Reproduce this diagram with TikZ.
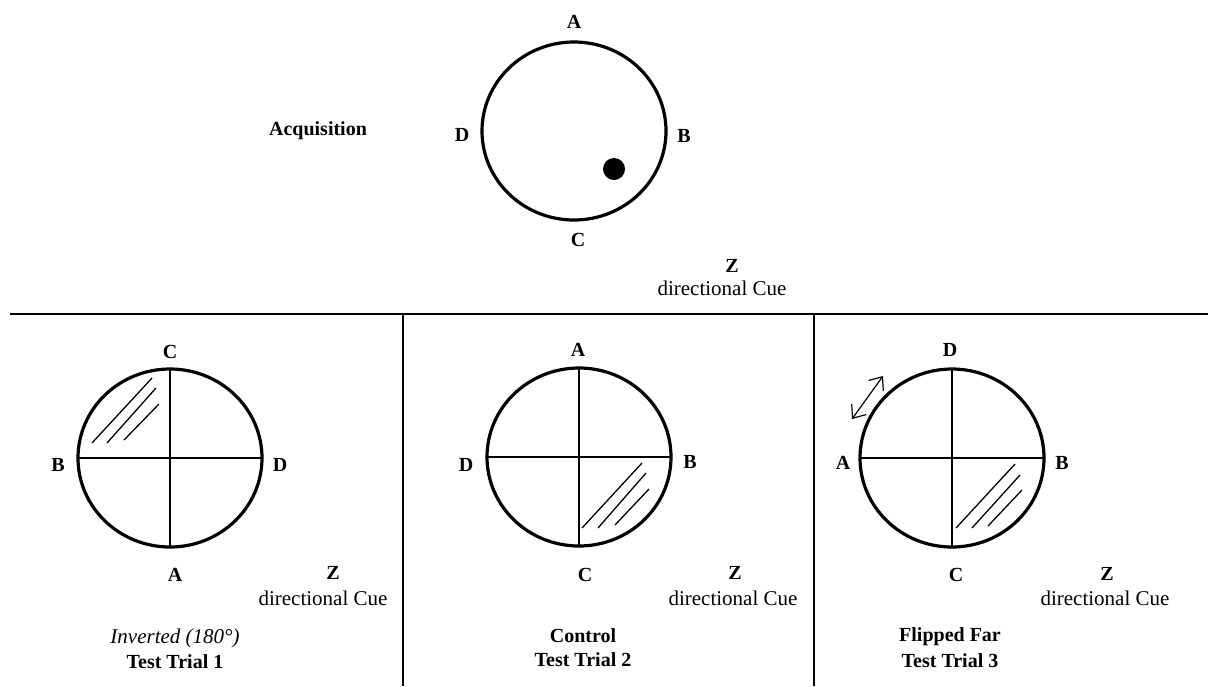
\documentclass[tikz,border=0pt]{standalone}
\usepackage{fontspec}
\setmainfont{Liberation Serif}
\usetikzlibrary{arrows.meta}
\tikzset{
  lbl/.style={font=\fontsize{10}{12}\selectfont\bfseries, inner sep=0pt},
  cue/.style={font=\fontsize{10.5}{12}\selectfont, inner sep=0pt},
  ring/.style={line width=1.6pt},
  cross/.style={line width=0.65pt},
  hatch/.style={line width=0.65pt},
}
\begin{document}
\begin{tikzpicture}[x=0.5pt,y=-0.5pt]
\useasboundingbox (0,0) rectangle (1208,686);
% Acquisition
\coordinate (acq) at (574,131);
\draw[ring] (acq) ellipse [x radius=92, y radius=89];
\fill (614,169) circle (11);
\node[lbl] (acqA) at (574,22) {A};
\node[lbl] (acqB) at (684,136) {B};
\node[lbl] (acqC) at (578,240) {C};
\node[lbl] (acqD) at (462,135) {D};
\node[lbl] (acqname) at (318,131) {Acquisition};
\node[lbl] (acqZ) at (732,266) {Z};
\node[cue] (acqcue) at (722,288) {directional Cue};
% Dividers
\coordinate (hl) at (10,314);
\coordinate (hr) at (1208,314);
\draw[line width=0.6pt] (hl) -- (hr);
\draw[line width=0.6pt] (403,314) -- (403,686);
\draw[line width=0.6pt] (814,314) -- (814,686);
% Test Trial 1
\coordinate (one) at (170,458);
\draw[ring] (one) ellipse [x radius=92, y radius=89];
\draw[cross] (78,458) -- (262,458);
\draw[cross] (170,369) -- (170,547);
\draw[hatch] (92,443) -- (152,378);
\draw[hatch] (107,443) -- (156,388);
\draw[hatch] (124,440) -- (159,404);
\node[lbl] (oneC) at (170,352) {C};
\node[lbl] (oneD) at (280,465) {D};
\node[lbl] (oneA) at (175,575) {A};
\node[lbl] (oneB) at (58,465) {B};
\node[lbl] (oneZ) at (333,573) {Z};
\node[cue] (onecue) at (323,598) {directional Cue};
\node[cue, font=\fontsize{10.5}{12}\selectfont\itshape] (onetype) at (175,638) {Inverted (180°)};
\node[lbl] (onename) at (175,662) {Test Trial 1};
% Test Trial 2
\coordinate (two) at (579,457);
\draw[ring] (two) ellipse [x radius=92, y radius=89];
\draw[cross] (487,457) -- (671,457);
\draw[cross] (579,368) -- (579,546);
\draw[hatch] (582,528) -- (642,463);
\draw[hatch] (598,528) -- (646,473);
\draw[hatch] (615,525) -- (649,489);
\node[lbl] (twoA) at (578,350) {A};
\node[lbl] (twoB) at (690,462) {B};
\node[lbl] (twoC) at (585,575) {C};
\node[lbl] (twoD) at (466,465) {D};
\node[lbl] (twoZ) at (735,573) {Z};
\node[cue] (twocue) at (733,598) {directional Cue};
\node[lbl] (twotype) at (583,636) {Control};
\node[lbl] (twoname) at (583,660) {Test Trial 2};
% Test Trial 3
\coordinate (three) at (952,458);
\draw[ring] (three) ellipse [x radius=92, y radius=89];
\draw[cross] (860,458) -- (1044,458);
\draw[cross] (952,369) -- (952,547);
\draw[hatch] (956,528) -- (1015,464);
\draw[hatch] (972,528) -- (1020,475);
\draw[hatch] (988,526) -- (1022,490);
\coordinate (flipS) at (852,419);
\coordinate (flipE) at (883,376);
\draw[line width=0.6pt, {Straight Barb[length=5.5pt,width=9pt]}-{Straight Barb[length=5.5pt,width=9pt]}] (flipS) -- (flipE);
\node[lbl] (threeD) at (950,350) {D};
\node[lbl] (threeB) at (1062,463) {B};
\node[lbl] (threeC) at (956,575) {C};
\node[lbl] (threeA) at (843,463) {A};
\node[lbl] (threeZ) at (1107,574) {Z};
\node[cue] (threecue) at (1105,598) {directional Cue};
\node[lbl] (threetype) at (950,637) {Flipped Far};
\node[lbl] (threename) at (950,661) {Test Trial 3};
\end{tikzpicture}
\end{document}
